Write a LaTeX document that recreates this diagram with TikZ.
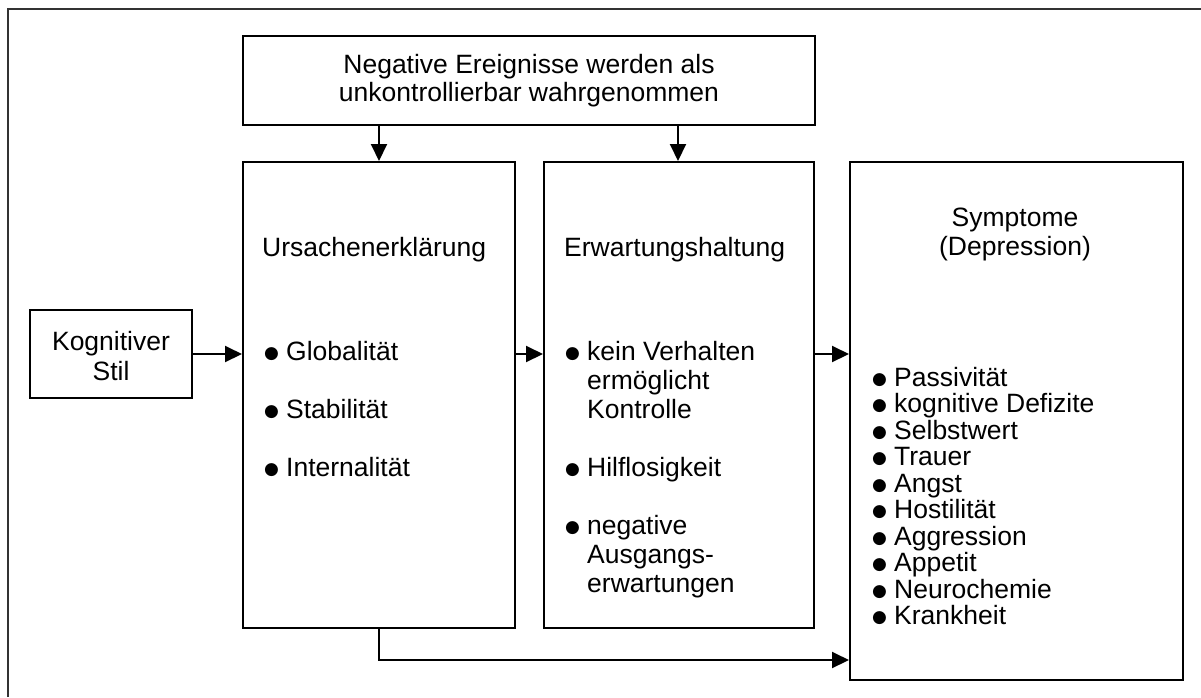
\documentclass[tikz,border=0pt]{standalone}
\usepackage{fontspec}
\setmainfont{Liberation Sans}
\newfontfamily\dejavu{DejaVu Sans}
\usetikzlibrary{arrows.meta}
\newcommand{\bl}{\makebox[22pt][l]{\raisebox{2pt}{\dejavu\fontsize{17}{17}\selectfont ●}}}
\newcommand{\ind}{\hspace*{22pt}}
\begin{document}
\begin{tikzpicture}[x=1pt,y=-1pt,
  box/.style={draw=black, line width=2pt, rectangle, inner sep=0pt, anchor=north west},
  arr/.style={line width=2pt, -{Triangle[length=17pt,width=16pt]}},
  txt/.style={inner sep=0pt, anchor=base west, font=\fontsize{26.5}{29}\selectfont}]
\useasboundingbox (0,0) rectangle (1201,697);
\fill[white] (0,0) rectangle (1201,697);
\draw[line width=2pt, black!80] (7.5,697) -- (7.5,8.5) -- (1201,8.5);

% boxes
\node[box, minimum width=572pt, minimum height=89pt] (top) at (242,35) {};
\node[box, minimum width=272pt, minimum height=466pt] (urs) at (242,161) {};
\node[box, minimum width=270pt, minimum height=466pt] (erw) at (543,161) {};
\node[box, minimum width=333pt, minimum height=518pt] (sym) at (849,161) {};
\node[box, minimum width=162pt, minimum height=88pt] (kog) at (29,309) {};

% texts
\node[inner sep=0pt, align=center, font=\fontsize{26.5}{28}\selectfont] (toptxt) at (top.center) {Negative Ereignisse werden als\\unkontrollierbar wahrgenommen};
\node[inner sep=0pt, align=center, font=\fontsize{26.5}{30}\selectfont] (kogtxt) at ([yshift=-2pt]kog.center) {Kognitiver\\Stil};

\node[txt] (ush) at (262,256) {Ursachenerklärung};
\node[txt] (ewh) at (564,256) {Erwartungshaltung};
\node[txt, anchor=base] (syh) at (1015,226) {\parbox[t]{300pt}{\centering Symptome\\(Depression)}};

\node[txt] (usl) at (264,360) {\parbox[t]{240pt}{\bl Globalität\\[29pt]\bl Stabilität\\[29pt]\bl Internalität}};
\node[txt] (ewl) at (565,360) {\parbox[t]{240pt}{\bl kein Verhalten\\\ind ermöglicht\\\ind Kontrolle\\[29pt]\bl Hilflosigkeit\\[29pt]\bl negative\\\ind Ausgangs-\\\ind erwartungen}};
\node[txt] (syl) at (872,386) {\parbox[t]{300pt}{\fontsize{26.5}{26.5}\selectfont\bl Passivität\\\bl kognitive Defizite\\\bl Selbstwert\\\bl Trauer\\\bl Angst\\\bl Hostilität\\\bl Aggression\\\bl Appetit\\\bl Neurochemie\\\bl Krankheit}};

% connectors
\coordinate (c1) at (379,0);
\coordinate (c2) at (678,0);
\coordinate (c3) at (379,660);
\draw[arr] (c1 |- top.south) -- (c1 |- urs.north);
\draw[arr] (c2 |- top.south) -- (c2 |- erw.north);
\draw[arr] (kog.east) -- (kog.east -| urs.west);
\draw[arr] (kog.east -| urs.east) -- (kog.east -| erw.west);
\draw[arr] (kog.east -| erw.east) -- (kog.east -| sym.west);
\draw[arr] (c1 |- urs.south) |- (c3 -| sym.west);
\end{tikzpicture}
\end{document}
